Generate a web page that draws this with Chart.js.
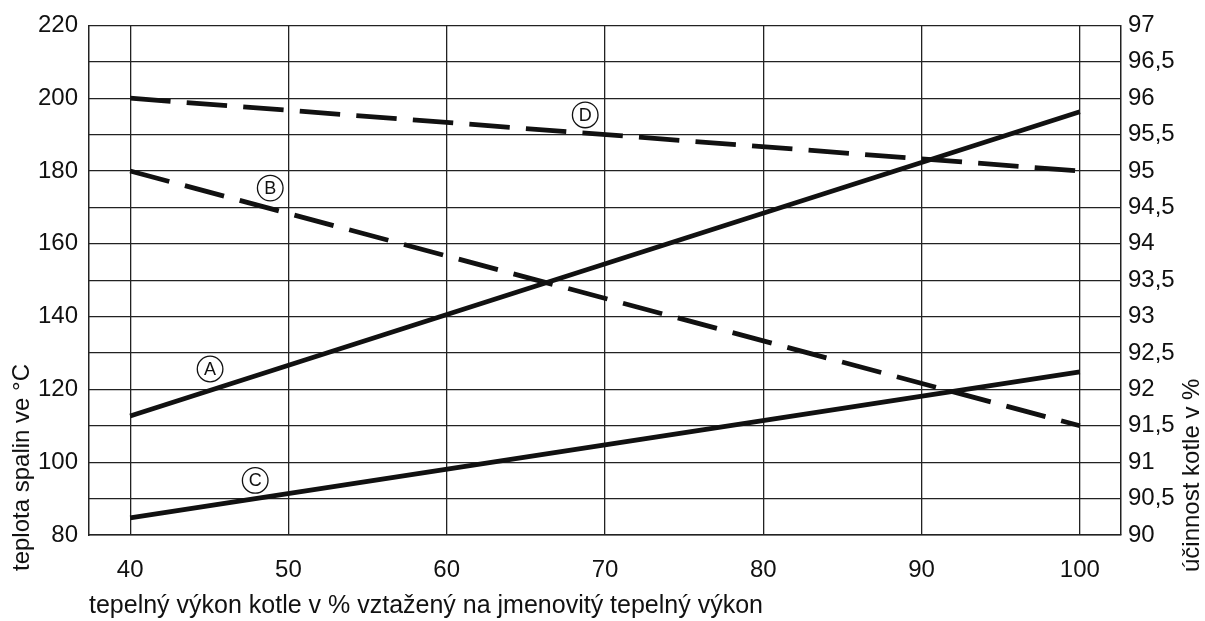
<!DOCTYPE html>
<html>
<head>
<meta charset="utf-8">
<script src="https://cdn.jsdelivr.net/npm/chart.js@4"></script>
<style>
  html, body { margin: 0; padding: 0; background: #fff; }
  #wrap { width: 1205px; height: 621px; position: relative; }
</style>
</head>
<body>
<div id="wrap"><canvas id="boilerChart"></canvas></div>
<script>
// load in % of rated output (x values)
const loadPct = [40, 100];
// flue gas temperature, °C (left axis)
const tempA = [112.7, 196.3];
const tempC = [84.7, 124.8];
// boiler efficiency, % (right axis)
const effB = [95.0, 91.5];
const effD = [96.0, 95.0];

// circled letters, in data units of x / left axis
const curveTags = ['A', 'B', 'C', 'D'];
const tagX = [45.05, 48.85, 47.9, 68.75];
const tagY = [125.6, 175.3, 95.0, 195.4];

const xTitle = 'tepelný výkon kotle v % vztažený na jmenovitý tepelný výkon';
const yTitle = 'teplota spalin ve °C';
const y2Title = 'účinnost kotle v %';

const FONT = "'Liberation Sans', Arial, sans-serif";
const INK = '#111';
const GRID = '#222';

function pts(xs, ys) {
  return xs.map((x, i) => ({ x: x, y: ys[i] }));
}

const tagPlugin = {
  id: 'curveTags',
  afterDatasetsDraw(chart) {
    const { ctx, scales } = chart;
    ctx.save();
    ctx.strokeStyle = INK;
    ctx.fillStyle = INK;
    ctx.lineWidth = 1.3;
    ctx.font = '18px ' + FONT;
    ctx.textAlign = 'center';
    ctx.textBaseline = 'middle';
    curveTags.forEach((t, i) => {
      const px = scales.x.getPixelForValue(tagX[i]);
      const py = scales.y.getPixelForValue(tagY[i]);
      ctx.beginPath();
      ctx.arc(px, py, 12.8, 0, Math.PI * 2);
      ctx.stroke();
      ctx.fillText(t, px, py + 1);
    });
    ctx.restore();
  }
};

// both side titles read bottom-to-top and start below the plot
const sideTitlePlugin = {
  id: 'sideTitles',
  afterDraw(chart) {
    const { ctx } = chart;
    const drawTitle = (text, x, y) => {
      ctx.save();
      ctx.translate(x, y);
      ctx.rotate(-Math.PI / 2);
      ctx.font = '24px ' + FONT;
      ctx.fillStyle = INK;
      ctx.textAlign = 'left';
      ctx.textBaseline = 'middle';
      ctx.fillText(text, 0, 0);
      ctx.restore();
    };
    const yl = chart.scales.y, yr = chart.scales.y2;
    drawTitle(yTitle, yl.left + 22, yl.bottom + 36);
    drawTitle(y2Title, yr.right - 13, yr.bottom + 37);
  }
};

const lineStyle = {
  borderColor: INK,
  borderWidth: 4.8,
  pointRadius: 0,
  fill: false,
  tension: 0,
  borderCapStyle: 'butt'
};

const ctx = document.getElementById('boilerChart').getContext('2d');
new Chart(ctx, {
  type: 'line',
  data: {
    datasets: [
      { ...lineStyle, label: 'A', data: pts(loadPct, tempA), yAxisID: 'y' },
      { ...lineStyle, label: 'C', data: pts(loadPct, tempC), yAxisID: 'y' },
      { ...lineStyle, label: 'B', data: pts(loadPct, effB), yAxisID: 'y2', borderDash: [40.5, 16.2] },
      { ...lineStyle, label: 'D', data: pts(loadPct, effD), yAxisID: 'y2', borderDash: [40.5, 16.2] }
    ]
  },
  options: {
    responsive: true,
    maintainAspectRatio: false,
    animation: false,
    layout: { padding: { top: 22, left: 0, right: 0, bottom: 0 } },
    plugins: {
      legend: { display: false },
      tooltip: { enabled: false }
    },
    scales: {
      x: {
        type: 'linear',
        min: 37.4,
        max: 102.6,
        ticks: {
          stepSize: 10,
          includeBounds: false,
          color: INK,
          font: { family: FONT, size: 24 },
          padding: 21
        },
        grid: { color: GRID, lineWidth: 1.3, drawTicks: false },
        border: { display: true, color: GRID, width: 1.5 },
        title: {
          display: true,
          text: xTitle,
          align: 'start',
          color: INK,
          font: { family: FONT, size: 25 },
          padding: { top: 0, bottom: 0 }
        },
        afterFit(scale) { scale.height = 86; }
      },
      y: {
        position: 'left',
        min: 80,
        max: 220,
        ticks: {
          stepSize: 20,
          color: INK,
          font: { family: FONT, size: 24 },
          padding: 11
        },
        grid: { display: true, drawOnChartArea: false, drawTicks: false },
        border: { display: true, color: GRID, width: 1.5 },
        afterFit(scale) { scale.width = 89; }
      },
      y2: {
        position: 'right',
        min: 90,
        max: 97,
        ticks: {
          stepSize: 0.5,
          color: INK,
          font: { family: FONT, size: 24 },
          padding: 7,
          callback: v => String(Math.round(v * 10) / 10).replace('.', ',')
        },
        grid: { color: GRID, lineWidth: 1.3, drawTicks: false },
        border: { display: true, color: GRID, width: 1.5 },
        afterFit(scale) { scale.width = 84; }
      }
    }
  },
  plugins: [tagPlugin, sideTitlePlugin]
});
</script>
</body>
</html>
